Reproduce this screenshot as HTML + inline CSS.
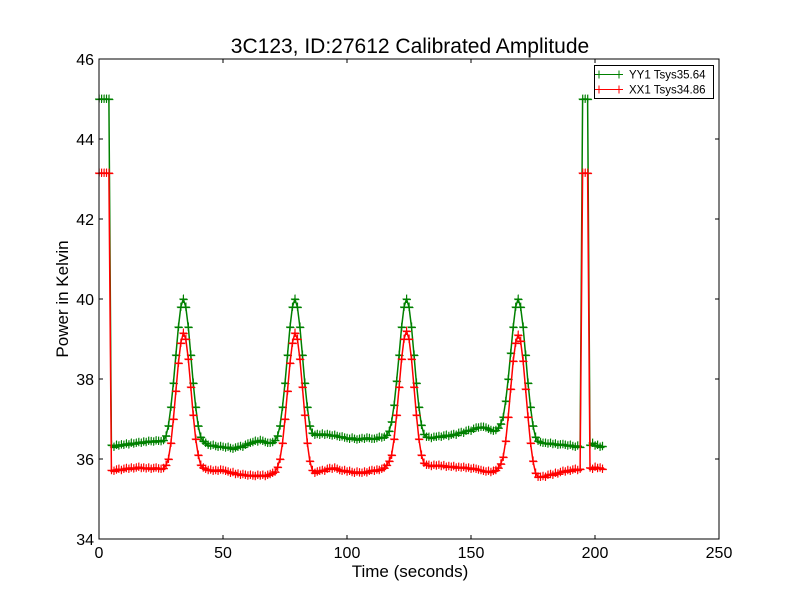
<!DOCTYPE html>
<html><head><meta charset="utf-8"><style>
body{margin:0;background:#fff}
svg{display:block;font-family:"Liberation Sans",sans-serif}
</style></head><body>
<svg id="chart" width="800" height="600">
<rect width="800" height="600" fill="#fff"/>
<g id="series"></g>
<rect x="99" y="59" width="620" height="480" fill="none" stroke="#000" stroke-width="1"/>
<g id="axes"></g>
<text x="410" y="53" font-size="21" text-anchor="middle">3C123, ID:27612 Calibrated Amplitude</text>
<text x="410" y="577" font-size="17" text-anchor="middle">Time (seconds)</text>
<text transform="translate(68,299) rotate(-90)" font-size="17" text-anchor="middle">Power in Kelvin</text>
<g>
<rect x="594.5" y="65.5" width="119" height="33" fill="#fff" stroke="#000"/>
<g>
<path d="M599 74.5H619M599 70.5V78.5M595 74.5H603M619 70.5V78.5M615 74.5H623" stroke="#008000" fill="none"/>
<text x="629" y="78.5" font-size="11.5">YY1 Tsys35.64</text></g>
<g>
<path d="M599 89.5H619M599 85.5V93.5M595 89.5H603M619 85.5V93.5M615 89.5H623" stroke="#ff0000" fill="none"/>
<text x="629" y="93.5" font-size="11.5">XX1 Tsys34.86</text></g>
</g>
</svg>
<script>
const xTicks=[0,50,100,150,200,250];
const yTicks=[34,36,38,40,42,44,46];
const yy1=[45,45,45,45,45,
36.35,36.3,36.35,36.33,36.36,36.35,36.38,36.36,36.4,36.38,36.4,36.42,36.4,36.43,36.42,36.45,36.44,36.43,36.46,36.45,36.44,
36.47,36.58,36.83,37.3,37.9,38.6,39.3,39.8,40.0,39.8,39.3,38.6,37.9,37.3,36.83,36.55,36.45,
36.4,36.35,36.33,36.35,36.32,36.3,36.32,36.3,36.28,36.3,36.27,36.25,36.28,36.3,36.32,36.3,36.35,36.38,36.4,36.42,36.45,36.43,36.47,36.45,36.42,36.4,36.4,36.42,
36.47,36.58,36.83,37.3,37.9,38.6,39.3,39.8,40.0,39.8,39.3,38.6,37.9,37.3,36.83,36.65,36.6,
36.62,36.6,36.63,36.6,36.62,36.6,36.58,36.6,36.57,36.55,36.56,36.53,36.52,36.5,36.53,36.5,36.48,36.5,36.52,36.5,36.53,36.52,36.5,36.5,36.52,36.55,36.53,36.55,
36.6,36.7,36.93,37.35,37.95,38.6,39.3,39.8,40.0,39.8,39.3,38.6,37.9,37.3,36.85,36.62,36.55,
36.55,36.52,36.55,36.55,36.57,36.55,36.58,36.6,36.57,36.6,36.62,36.6,36.65,36.67,36.65,36.7,36.72,36.7,36.75,36.78,36.78,36.8,36.8,36.78,36.75,36.72,36.7,36.72,
36.78,36.88,37.05,37.45,38.0,38.65,39.3,39.8,40.0,39.8,39.3,38.6,37.9,37.3,36.83,36.55,36.45,
36.42,36.4,36.4,36.38,36.4,36.37,36.38,36.35,36.36,36.37,36.35,36.33,36.35,36.32,36.3,36.33,
36.3,45,45,45,
36.35,36.4,36.33,36.35,36.3,36.32];
const xx1=[43.15,43.15,43.15,43.15,43.15,
35.72,35.7,35.73,35.75,35.72,35.75,35.77,35.75,35.78,35.76,35.78,35.8,35.77,35.78,35.76,35.78,35.75,35.77,35.78,35.76,35.75,
35.77,35.85,36.0,36.4,37.0,37.7,38.4,38.9,39.15,39.0,38.5,37.8,37.1,36.5,36.1,35.85,35.78,
35.75,35.72,35.73,35.7,35.72,35.7,35.73,35.72,35.7,35.68,35.65,35.67,35.62,35.63,35.6,35.62,35.6,35.58,35.6,35.58,35.57,35.6,35.58,35.6,35.57,35.6,35.62,35.65,
35.68,35.8,36.0,36.4,37.0,37.7,38.4,38.9,39.15,39.0,38.5,37.8,37.1,36.4,35.95,35.72,35.65,
35.68,35.7,35.72,35.7,35.75,35.77,35.75,35.78,35.75,35.72,35.7,35.72,35.68,35.7,35.67,35.65,35.68,35.66,35.65,35.68,35.66,35.7,35.72,35.7,35.73,35.72,35.75,35.78,
35.85,35.95,36.1,36.5,37.1,37.8,38.5,39.0,39.2,39.0,38.5,37.8,37.1,36.5,36.1,35.9,35.85,
35.85,35.82,35.85,35.83,35.85,35.82,35.84,35.8,35.82,35.8,35.82,35.78,35.8,35.78,35.8,35.77,35.78,35.75,35.77,35.75,35.73,35.72,35.7,35.68,35.7,35.67,35.7,35.72,
35.78,35.88,36.05,36.45,37.05,37.75,38.45,38.9,39.1,38.95,38.45,37.75,37.05,36.4,35.95,35.65,35.55,
35.55,35.57,35.55,35.6,35.62,35.6,35.65,35.63,35.67,35.7,35.68,35.72,35.7,35.73,35.75,35.72,
35.75,43.15,43.15,43.15,
35.78,35.75,35.8,35.77,35.78,35.75];
const NS="http://www.w3.org/2000/svg";
const X=t=>99+(t-0)*620/250;
const Y=v=>539-(v-34)*480/12;
const axes=document.getElementById('axes');
let tp='';
xTicks.forEach(t=>{const x=X(t).toFixed(1);tp+=`M${x} 539v-4M${x} 59v4`;
 const tx=document.createElementNS(NS,'text');tx.setAttribute('x',X(t));tx.setAttribute('y',558);tx.setAttribute('font-size','16');tx.setAttribute('text-anchor','middle');tx.textContent=t;
 
 
 axes.appendChild(tx);});
yTicks.forEach(v=>{const y=Y(v).toFixed(1);tp+=`M99 ${y}h4M719 ${y}h-4`;
 const tx=document.createElementNS(NS,'text');tx.setAttribute('x',94);tx.setAttribute('y',Y(v)+6);tx.setAttribute('font-size','16');tx.setAttribute('text-anchor','end');tx.textContent=v;
 
 
 axes.appendChild(tx);});
const tk=document.createElementNS(NS,'path');tk.setAttribute('d',tp);tk.setAttribute('stroke','#000');tk.setAttribute('fill','none');


axes.appendChild(tk);
const sg=document.getElementById('series');
function draw(vals,color,name){
 let line='',mk='';
 vals.forEach((v,i)=>{const x=X(i),y=Y(v);line+=(i?'L':'M')+x.toFixed(1)+' '+y.toFixed(1);
  mk+=`M${(x-4).toFixed(1)} ${y.toFixed(1)}h8M${x.toFixed(1)} ${(y-4).toFixed(1)}v8`;
  mk+=`M${(x+0.2).toFixed(1)} ${(y-4.5).toFixed(1)}v8M${(x-3.5).toFixed(1)} ${(y+0.6).toFixed(1)}h8`;});
 const g=document.createElementNS(NS,'g');
 
 
 const p=document.createElementNS(NS,'path');p.setAttribute('d',line);p.setAttribute('stroke',color);p.setAttribute('fill','none');p.setAttribute('stroke-width','1.5');
 const m=document.createElementNS(NS,'path');m.setAttribute('d',mk);m.setAttribute('stroke',color);m.setAttribute('fill','none');m.setAttribute('stroke-width','1');
 g.appendChild(p);g.appendChild(m);sg.appendChild(g);
}
draw(yy1,'#008000','series-yy1');
draw(xx1,'#ff0000','series-xx1');
</script>
</body></html>
